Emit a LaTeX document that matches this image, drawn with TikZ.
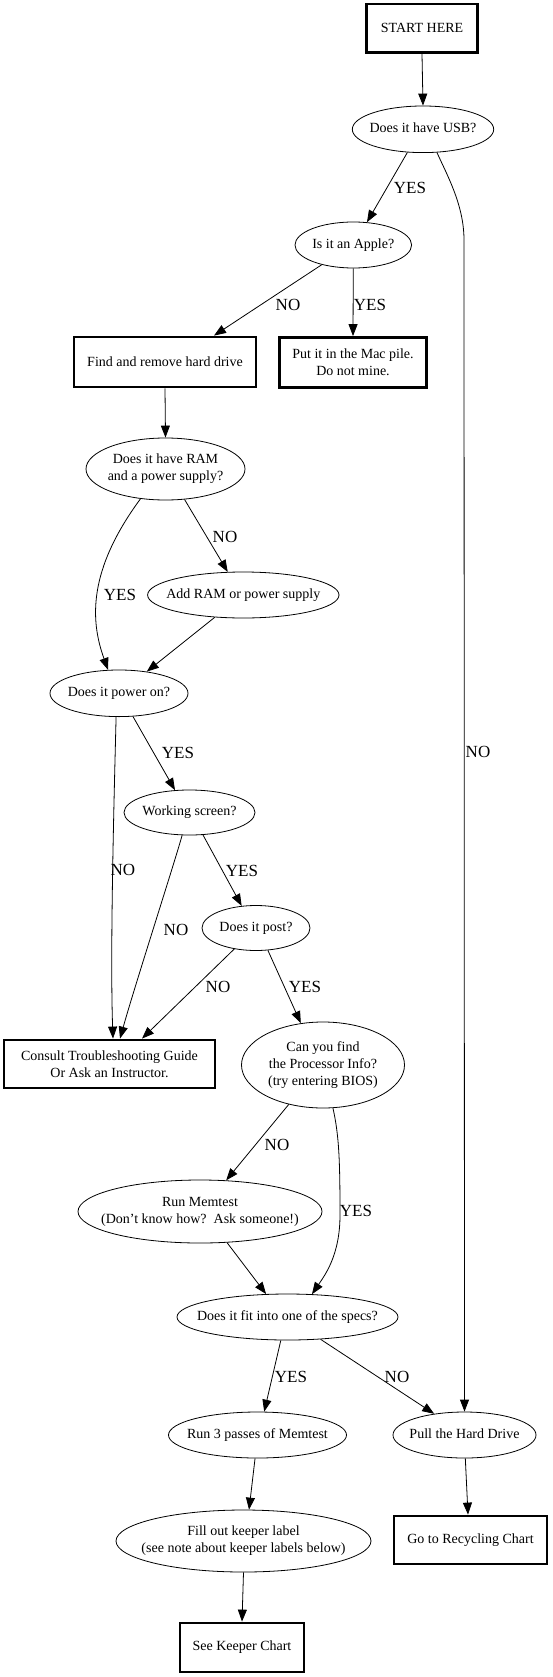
\documentclass[tikz,border=0pt]{standalone}
\usepackage{fontspec}
\setmainfont{Liberation Serif}
\usetikzlibrary{shapes.geometric,arrows.meta}
\newcommand\mylines[1]{\makebox[0pt]{\begin{tabular}{@{}c@{}}#1\end{tabular}}}
\begin{document}
\begin{tikzpicture}[x=1pt,y=-1pt,
  every node/.style={inner sep=0pt},
  q/.style={draw, ellipse, line width=0.8pt, font=\fontsize{14}{17}\selectfont},
  bx/.style={draw, rectangle, line width=2.8pt, align=center, font=\fontsize{14}{17}\selectfont},
  conn/.style={line width=0.8pt, -{Triangle[length=12pt,width=9pt]}},
  lbl/.style={font=\fontsize{17}{20}\selectfont}]
\useasboundingbox (0,0) rectangle (552,1677);

% nodes
\node[bx, minimum width=110.6pt, minimum height=48.7pt] (start) at (422,28.3) {START HERE};
\node[q, minimum width=141.4pt, minimum height=46.6pt] (usb) at (423,129.3) {\mylines{Does it have USB?}};
\node[q, minimum width=116.6pt, minimum height=46pt] (apple) at (353.3,245) {\mylines{Is it an Apple?}};
\node[bx, minimum width=182pt, minimum height=50pt] (find) at (165,362) {Find and remove hard drive};
\node[bx, minimum width=147pt, minimum height=50pt] (mac) at (353,362.5) {Put it in the Mac pile.\\Do not mine.};
\node[q, minimum width=159pt, minimum height=62pt] (ram) at (165.5,469) {\mylines{Does it have RAM\\and a power supply?}};
\node[q, minimum width=191.4pt, minimum height=46pt] (addram) at (243.3,595) {\mylines{Add RAM or power supply}};
\node[q, minimum width=138pt, minimum height=46.6pt] (power) at (119,693.3) {\mylines{Does it power on?}};
\node[q, minimum width=131pt, minimum height=45pt] (working) at (189.5,812.5) {\mylines{Working screen?}};
\node[q, minimum width=108pt, minimum height=45pt] (post) at (256,928) {\mylines{Does it post?}};
\node[bx, minimum width=211pt, minimum height=48pt] (consult) at (109.5,1064) {Consult Troubleshooting Guide\\Or Ask an Instructor.};
\node[q, minimum width=163pt, minimum height=86pt] (processor) at (323,1065) {\mylines{Can you find\\the Processor Info?\\(try entering BIOS)}};
\node[q, minimum width=244pt, minimum height=63pt] (memtest) at (200,1211.5) {\mylines{Run Memtest\\(Don{\char"27}t know how?~~Ask someone!)}};
\node[q, minimum width=221pt, minimum height=46pt] (specs) at (287.5,1317) {\mylines{Does it fit into one of the specs?}};
\node[q, minimum width=178pt, minimum height=46pt] (run3) at (257.5,1435) {\mylines{Run 3 passes of Memtest}};
\node[q, minimum width=143pt, minimum height=46pt] (pull) at (464.5,1435) {\mylines{Pull the Hard Drive}};
\node[q, minimum width=255pt, minimum height=62pt] (fill) at (243.5,1541) {\mylines{Fill out keeper label\\(see note about keeper labels below)}};
\node[bx, minimum width=153pt, minimum height=48pt] (recycle) at (470.5,1540) {Go to Recycling Chart};
\node[bx, minimum width=124pt, minimum height=49pt] (keeper) at (242,1647.5) {See Keeper Chart};

% connector labels
\node[lbl] (l1) at (410,188) {YES};
\node[lbl] (l2) at (478,752) {NO};
\node[lbl] (l3) at (370,305) {YES};
\node[lbl] (l4) at (288,305) {NO};
\node[lbl] (l5) at (225,537) {NO};
\node[lbl] (l6) at (120,595) {YES};
\node[lbl] (l7) at (178,753) {YES};
\node[lbl] (l8) at (123,870) {NO};
\node[lbl] (l9) at (176,930) {NO};
\node[lbl] (l10) at (242,871) {YES};
\node[lbl] (l11) at (218,987) {NO};
\node[lbl] (l12) at (305,987) {YES};
\node[lbl] (l13) at (277,1145) {NO};
\node[lbl] (l14) at (356,1211) {YES};
\node[lbl] (l15) at (291,1377) {YES};
\node[lbl] (l16) at (397,1377) {NO};

% connectors
\draw[conn] (start.south) -- (usb.north);
\draw[conn] (usb.236) -- (apple.59);
\draw[conn] (usb.-59) .. controls (447,175) and (464,205) .. (464,240) -- (pull.north);
\draw[conn] (apple.south) -- (mac.north);
\draw[conn] (apple.212) -- ([xshift=49pt]find.north);
\draw[conn] (find.south) -- (ram.north);
\draw[conn] (ram.-58) -- (addram.124);
\draw[conn] (ram.230) .. controls (88,570) and (90,620) .. (power.115);
\draw[conn] (addram.218) -- (power.38);
\draw[conn] (power.-59) -- (working.123);
\draw[conn] (power.-97) .. controls (114,800) and (110,950) .. ([xshift=3.5pt]consult.north);
\draw[conn] (working.-108) .. controls (176,858) and (135,985) .. ([xshift=10.5pt]consult.north);
\draw[conn] (working.-59) -- (post.123);
\draw[conn] (post.224) -- ([xshift=32.5pt]consult.north);
\draw[conn] (post.-62) -- (processor.118);
\draw[conn] (processor.229) -- (memtest.50);
\draw[conn] (processor.-77) .. controls (339,1135) and (340,1160) .. (340,1215) .. controls (340,1255) and (325,1275) .. (specs.43);
\draw[conn] (memtest.-49) -- (specs.133);
\draw[conn] (specs.-106) -- (run3.74);
\draw[conn] (specs.-34) -- (pull.145);
\draw[conn] (run3.-96) -- (fill.80);
\draw[conn] (fill.south) -- (keeper.north);
\draw[conn] (pull.-88) -- ([xshift=-2.5pt]recycle.north);
\end{tikzpicture}
\end{document}
